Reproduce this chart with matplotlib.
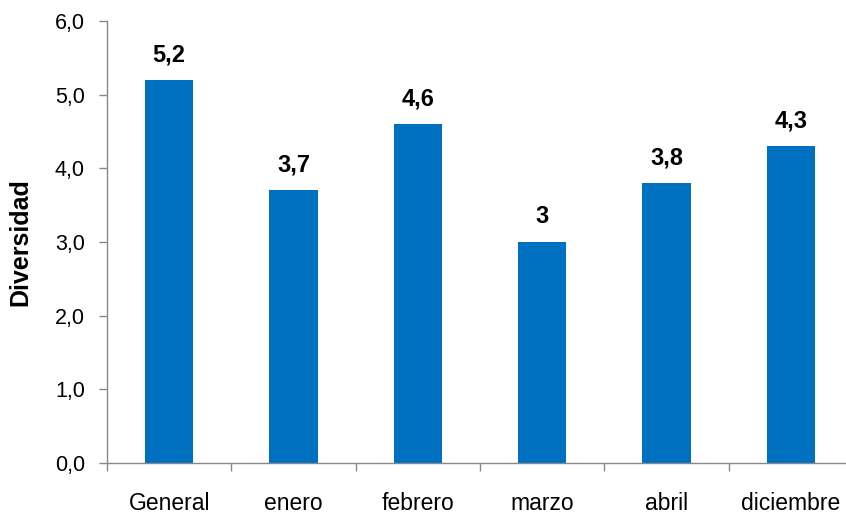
import matplotlib
matplotlib.use("Agg")
import matplotlib.pyplot as plt
import numpy as np
from matplotlib.ticker import FixedLocator, FuncFormatter

categories = ["General", "enero", "febrero", "marzo", "abril", "diciembre"]
values = [5.2, 3.7, 4.6, 3.0, 3.8, 4.3]
value_labels = ["5,2", "3,7", "4,6", "3", "3,8", "4,3"]
yticks = [0, 1, 2, 3, 4, 5, 6]

plt.rcParams['font.family'] = ['Liberation Sans', 'DejaVu Sans']

fig = plt.figure(figsize=(8.46, 5.15), dpi=100)
ax = fig.add_axes([107/846, 1-463/515, (853-107)/846, (463-21)/515])

x = np.arange(len(categories))
bars = ax.bar(x, values, width=0.39, color="#0070C0", zorder=2)
for xi, v, lab in zip(x, values, value_labels):
    ax.annotate(lab, (xi, v), xytext=(0, 10), textcoords="offset points",
                ha="center", va="bottom", fontsize=17, fontweight="bold")

ax.set_xlim(-0.5, len(categories) - 0.5)
ax.set_ylim(0, 6)
ax.set_yticks(yticks)
ax.yaxis.set_major_formatter(FuncFormatter(lambda v, p: f"{v:.1f}".replace(".", ",")))
ax.set_xticks(x)
ax.set_xticklabels(categories)
ax.xaxis.set_minor_locator(FixedLocator(np.arange(-0.5, len(categories), 1.0)))
ax.tick_params(axis="x", which="major", length=0, pad=21, labelsize=16.5)
ax.tick_params(axis="x", which="minor", length=6, color="#888888", width=1)
ax.tick_params(axis="y", length=6, color="#888888", width=1, pad=10, labelsize=15.5)

for s in ["top", "right"]:
    ax.spines[s].set_visible(False)
for s in ["left", "bottom"]:
    ax.spines[s].set_color("#888888")
    ax.spines[s].set_linewidth(1)

ax.set_ylabel("Diversidad", fontsize=18, fontweight="bold")
ax.yaxis.set_label_coords(-75/746, 0.5)

fig.savefig("out.png", dpi=100)
